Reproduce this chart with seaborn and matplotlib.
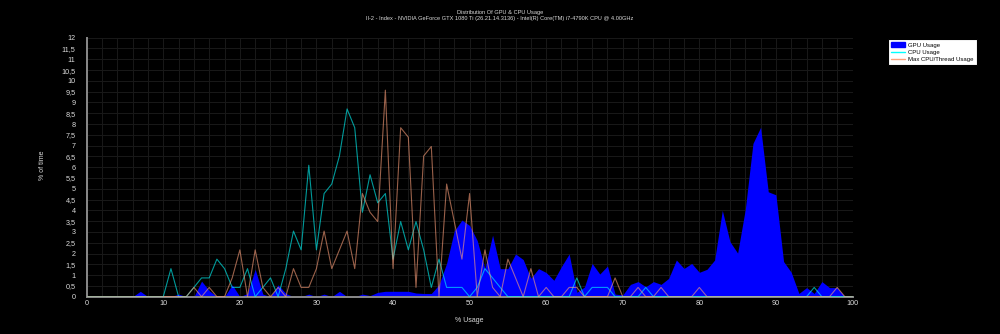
import matplotlib
matplotlib.use("Agg")
import matplotlib.pyplot as plt
from matplotlib.ticker import MultipleLocator, FuncFormatter
from matplotlib.patches import Patch
from matplotlib.lines import Line2D
import seaborn as sns

# Usage bins 0..100 %
usage = list(range(101))

gpu_usage = [
    0, 0, 0, 0, 0, 0, 0, 0.25, 0, 0,
    0, 0, 0.12, 0, 0, 0.72, 0.28, 0, 0, 0.55,
    0, 0.15, 1.27, 0.12, 0, 0.55, 0.15, 0, 0, 0.12,
    0, 0.12, 0, 0.25, 0, 0, 0.12, 0.05, 0.2, 0.25,
    0.25, 0.25, 0.25, 0.17, 0.15, 0.15, 0.55, 1.55, 3.05, 3.55,
    3.3, 2.6, 1.3, 2.85, 1.3, 1.3, 1.98, 1.72, 0.85, 1.3,
    1.12, 0.76, 1.4, 1.98, 0.2, 0.45, 1.54, 1.05, 1.42, 0.12,
    0.08, 0.57, 0.7, 0.46, 0.7, 0.57, 0.85, 1.7, 1.31, 1.54,
    1.13, 1.27, 1.7, 4.0, 2.55, 2.02, 4.05, 7.1, 7.85, 4.86,
    4.72, 1.63, 1.13, 0.15, 0.42, 0.15, 0.7, 0.42, 0.42, 0,
    0,
]

cpu_usage = [
    0, 0, 0, 0, 0, 0, 0, 0, 0, 0,
    0, 1.30, 0, 0, 0.43, 0.87, 0.87, 1.74, 1.30, 0.43,
    0.43, 1.30, 0, 0.43, 0.87, 0, 1.30, 3.04, 2.17, 6.09,
    2.17, 4.78, 5.22, 6.52, 8.70, 7.83, 3.91, 5.65, 4.35, 4.78,
    1.74, 3.48, 2.17, 3.48, 2.17, 0.43, 1.74, 0.43, 0.43, 0.43,
    0, 0.43, 1.30, 0.87, 0.43, 0, 0, 0, 0, 0,
    0, 0, 0, 0, 0.87, 0, 0.43, 0.43, 0.43, 0,
    0, 0, 0, 0.43, 0, 0, 0, 0, 0, 0,
    0, 0, 0, 0, 0, 0, 0, 0, 0, 0,
    0, 0, 0, 0, 0, 0.43, 0, 0, 0, 0,
    0,
]

max_thread_usage = [
    0, 0, 0, 0, 0, 0, 0, 0, 0, 0,
    0, 0, 0, 0, 0.43, 0, 0.43, 0, 0, 0.87,
    2.17, 0, 2.17, 0.43, 0, 0.43, 0, 1.30, 0.43, 0.43,
    1.30, 3.04, 1.30, 2.17, 3.04, 1.30, 4.78, 3.91, 3.48, 9.57,
    1.30, 7.83, 7.39, 0.43, 6.52, 6.96, 0, 5.22, 3.48, 1.74,
    4.78, 0, 2.17, 0.43, 0, 1.74, 0.87, 0, 1.30, 0,
    0.43, 0, 0, 0.43, 0.43, 0, 0, 0, 0, 0.87,
    0, 0, 0.43, 0, 0, 0.43, 0, 0, 0, 0,
    0.43, 0, 0, 0, 0, 0, 0, 0, 0, 0,
    0, 0, 0, 0, 0, 0, 0, 0, 0.43, 0,
    0,
]

y_ticks = [i * 0.5 for i in range(25)]
x_ticks = list(range(0, 101, 10))

title = "Distribution Of GPU & CPU Usage"
subtitle = ("II-2 - Index - NVIDIA GeForce GTX 1080 Ti (26.21.14.3136) - "
            "Intel(R) Core(TM) i7-4790K CPU @ 4.00GHz")

GPU_COLOR = "#0000ff"
CPU_COLOR = "#00ffff"
THREAD_COLOR = "#ffa07a"
TEXT_COLOR = "#dcdcdc"

sns.set_style("dark")
plt.rcParams["font.family"] = ["Liberation Sans", "DejaVu Sans"]

fig = plt.figure(figsize=(10, 3.34), dpi=100, facecolor="black")
ax = fig.add_axes([0.0867, 0.1117, 0.7658, 0.7754])
ax.set_facecolor("black")

ax.fill_between(usage, gpu_usage, color=GPU_COLOR, lw=0, zorder=2)
sns.lineplot(x=usage, y=cpu_usage, color=CPU_COLOR, alpha=0.6, lw=0.8,
             ax=ax, zorder=3)
sns.lineplot(x=usage, y=max_thread_usage, color=THREAD_COLOR, alpha=0.6,
             lw=0.8, ax=ax, zorder=3)

ax.set_xlim(0, 100)
ax.set_ylim(0, 12)
ax.set_xticks(x_ticks)
ax.xaxis.set_minor_locator(MultipleLocator(2))
ax.set_yticks(y_ticks)
ax.yaxis.set_major_formatter(FuncFormatter(lambda v, p: f"{v:g}".replace(".", ",")))

ax.grid(True, which="both", color="#191919", lw=0.7, zorder=0)
ax.set_axisbelow(True)
ax.tick_params(axis="both", which="both", length=0, colors=TEXT_COLOR,
               labelsize=5.2)
ax.tick_params(axis="y", pad=8)
ax.tick_params(axis="x", pad=2.5)

for side in ("top", "right"):
    ax.spines[side].set_visible(False)
for side in ("left", "bottom"):
    ax.spines[side].set_color("#8a8a8a")
    ax.spines[side].set_linewidth(1.4)

ax.set_xlabel("% Usage", color=TEXT_COLOR, fontsize=5)
ax.set_ylabel("% of time", color=TEXT_COLOR, fontsize=5)
ax.xaxis.set_label_coords(0.4992, -0.078)
ax.yaxis.set_label_coords(-0.0525, 0.508)

fig.text(0.5, 1 - 12.7 / 334, title, ha="center", va="center",
         color=TEXT_COLOR, fontsize=4.1)
fig.text(0.5, 1 - 18.6 / 334, subtitle, ha="center", va="center",
         color=TEXT_COLOR, fontsize=4.1)

handles = [
    Patch(facecolor=GPU_COLOR, edgecolor=GPU_COLOR),
    Line2D([0], [0], color=CPU_COLOR, lw=1),
    Line2D([0], [0], color=THREAD_COLOR, lw=1),
]
labels = ["GPU Usage", "CPU Usage", "Max CPU/Thread Usage"]
leg = fig.legend(handles, labels, loc="upper left",
                 bbox_to_anchor=(0.888, 1 - 39 / 334), frameon=True,
                 facecolor="white", edgecolor="black", fancybox=False,
                 framealpha=1, fontsize=4.3, borderpad=0.5,
                 handlelength=2.4, handleheight=0.9, labelspacing=0.3,
                 handletextpad=0.5, borderaxespad=0)
leg.get_frame().set_linewidth(0.8)
for t in leg.get_texts():
    t.set_color("black")

fig.savefig("out.png", dpi=100, facecolor="black")
